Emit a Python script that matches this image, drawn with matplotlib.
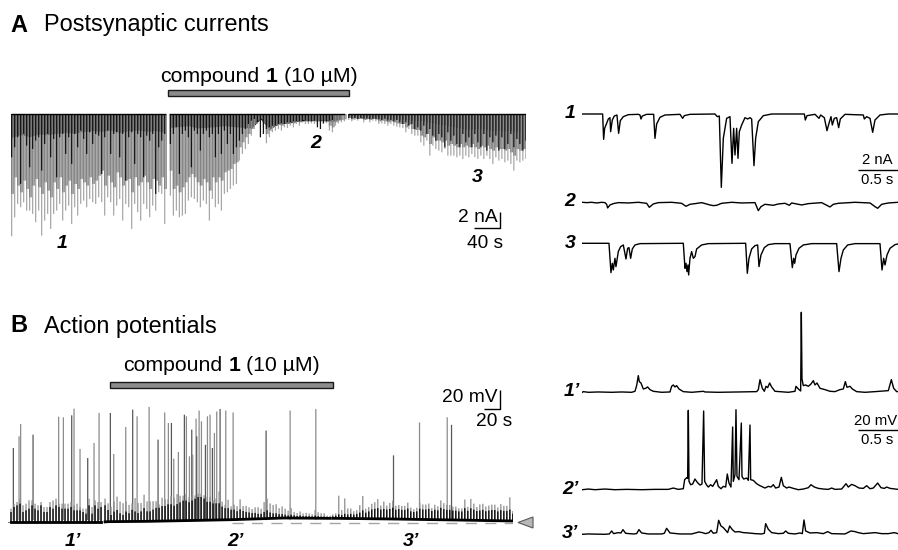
import numpy as np
import matplotlib
matplotlib.use("Agg")
import matplotlib.pyplot as plt
from matplotlib.patches import Polygon, Rectangle

plt.rcParams["font.family"] = ["Liberation Sans", "DejaVu Sans"]

W, H = 898, 550

# -----------------------------------
# Calibration of the recordings
# -----------------------------------
NA_PER_COUNT = 0.0393
MV_PER_COUNT = 0.35
A_DT = 4.615       # s between envelope samples, panel A
A_CORE_DT = 13.85
B_DT = 3.75        # s between envelope samples, panel B

# -----------------------------------
# Panel A, long recording (depth in counts below baseline)
# -----------------------------------
a_starts = [1.0, 245.1, 519.5]
a_tip_1 = [367, 310, 270, 280, 265, 290, 290, 300, 325, 290, 365, 320, 300, 345, 300, 290, 270, 320,
           290, 275, 330, 280, 305, 270, 260, 280, 255, 265, 270, 250, 265, 305, 250, 265, 305, 275,
           255, 320, 270, 280, 345, 270, 295, 320, 270, 285, 310, 275, 290, 235, 240, 330]
a_tip_2 = [245, 305, 290, 310, 305, 300, 260, 250, 255, 265, 280, 260, 270, 320, 255, 280, 270, 290,
           240, 235, 225, 215, 210, 140, 120, 105, 90, 65, 45, 30, 20, 40, 88, 70, 55, 50, 45, 50,
           40, 42, 35, 40, 30, 35, 25, 30, 30, 28, 30, 30, 28, 30, 28, 50, 55, 35, 28, 25, 22]
a_tip_3 = [18, 22, 18, 20, 15, 25, 18, 25, 20, 22, 30, 28, 30, 35, 30, 35, 38, 40, 42, 55, 45, 60,
           65, 65, 85, 95, 80, 125, 95, 105, 110, 115, 105, 125, 125, 125, 130, 125, 135, 125, 130,
           120, 130, 135, 125, 135, 125, 135, 150, 130, 140, 135, 145, 140, 150, 170, 140, 145, 140, 135]
a_mid_1 = [240, 190, 215, 235, 200, 225, 250, 215, 195, 220, 240, 205, 230, 250, 205, 225, 190, 235,
           215, 200, 240, 210, 225, 195, 205, 215, 190, 210, 200, 185, 170, 215, 185, 205, 220, 175,
           190, 215, 200, 195, 235, 190, 215, 205, 185, 205, 225, 195, 200, 215, 190, 225]
a_mid_2 = [170, 225, 215, 235, 220, 205, 190, 180, 190, 205, 215, 195, 205, 230, 190, 205, 190, 200,
           175, 170, 165, 150, 145, 100, 85, 70, 60, 45, 30, 20, 15, 28, 60, 50, 40, 35, 30, 35, 30,
           30, 25, 28, 22, 25, 18, 22, 22, 20, 22, 22, 20, 22, 20, 35, 40, 25, 20, 18, 16]
a_mid_3 = [12, 16, 12, 15, 11, 18, 13, 18, 15, 16, 22, 20, 22, 25, 22, 25, 28, 30, 30, 40, 32, 45, 48,
           48, 65, 70, 60, 90, 70, 80, 80, 85, 80, 95, 90, 95, 100, 90, 100, 95, 100, 90, 100, 105,
           95, 100, 95, 105, 110, 100, 105, 105, 110, 105, 115, 125, 105, 110, 105, 105]
a_core_1 = [70, 62, 68, 60, 62, 58, 55, 58, 52, 50, 52, 48, 55, 50, 48, 52, 50, 55]
a_core_2 = [40, 38, 35, 42, 40, 38, 35, 38, 40, 42, 15, 45, 30, 28, 22, 20, 20, 20, 22, 14]
a_core_3 = [10, 12, 12, 14, 14, 15, 16, 18, 20, 25, 30, 35, 40, 45, 45, 45, 50, 50, 50, 55]
a_dark_1 = [130, 100, 70, 210, 60, 95, 160, 105, 80, 70, 170, 90, 60, 130, 75, 190, 70, 60, 120, 70,
            150, 60, 100, 50, 75, 120, 55, 90, 60, 65, 180, 70, 50, 120, 60, 55, 130, 60, 200, 70,
            55, 150, 60, 70, 190, 65, 80, 60, 240, 100, 80, 60]
a_dark_2 = [90, 60, 40, 180, 60, 50, 70, 160, 50, 60, 110, 60, 50, 70, 60, 130, 60, 120, 50, 90, 60,
            120, 100, 80, 60, 45, 30, 20, 15, 25, 70, 60, 45, 40, 35, 35, 30, 28, 30, 25, 25, 22, 22,
            22, 22, 20, 22, 22, 20, 40, 45, 28, 22, 20, 18]
a_dark_3 = [12, 14, 12, 15, 12, 14, 14, 15, 14, 14, 16, 18, 14, 20, 18, 22, 18, 25, 30, 25, 35, 30,
            45, 40, 50, 35, 60, 45, 65, 80, 60, 70, 100, 55, 80, 65, 90, 100, 60, 85, 70, 100, 60,
            85, 100, 60, 110, 70, 85, 65, 110, 70, 105, 90, 60, 100, 75, 90, 110, 80]

# -----------------------------------
# Panel B, long recording (height in counts above rest)
# -----------------------------------
b_starts = [3.75, 121.25, 405.8]
b_tip_1 = [40, 55, 60, 70, 50, 55, 65, 65, 55, 50, 60, 45, 45, 60, 65, 70, 55, 55, 55, 55, 60, 50,
           55, 45, 40, 40, 70, 45, 65, 60, 60]
b_dark_1 = [30, 45, 50, 55, 30, 35, 40, 50, 40, 35, 50, 30, 30, 45, 40, 50, 45, 40, 40, 40, 45, 35,
            35, 35, 30, 25, 50, 25, 50, 40, 45]
b_tip_2 = [70, 55, 45, 60, 75, 60, 55, 60, 50, 55, 70, 55, 55, 80, 60, 60, 60, 60, 50, 70, 65, 65,
           75, 70, 80, 75, 75, 80, 70, 75, 75, 80, 80, 75, 70, 70, 60, 65, 85, 55, 45, 60, 40, 45,
           40, 60, 40, 40, 35, 30, 35, 35, 30, 50, 60, 45, 40, 42, 30, 35, 28, 22, 30, 18, 15, 20,
           14, 16, 14, 12, 25, 18, 15, 15, 8, 8]
b_dark_2 = [50, 35, 20, 30, 35, 25, 20, 30, 25, 35, 30, 25, 30, 40, 30, 30, 35, 40, 40, 45, 45, 50,
            50, 45, 50, 55, 60, 60, 55, 60, 65, 70, 70, 65, 55, 55, 50, 50, 50, 40, 35, 35, 30, 30,
            25, 30, 25, 22, 20, 18, 18, 15, 15, 20, 25, 18, 15, 15, 12, 12, 10, 8, 10, 8, 6, 8, 6,
            6, 6, 5, 8, 6, 5, 5, 3, 3]
b_tip_3 = [12, 15, 68, 25, 60, 30, 30, 22, 25, 40, 68, 30, 35, 45, 50, 59, 40, 52, 40, 48, 55, 40,
           42, 40, 40, 50, 35, 30, 35, 50, 45, 45, 48, 35, 45, 40, 58, 50, 45, 45, 40, 40, 35, 35,
           62, 40, 64, 50, 40, 48, 50, 42, 45, 48, 48, 40, 50, 45, 45, 71, 30]
b_dark_3 = [6, 8, 12, 10, 14, 12, 14, 12, 14, 18, 25, 18, 22, 28, 30, 32, 28, 30, 28, 30, 34, 28, 30,
            28, 28, 32, 24, 22, 24, 32, 30, 30, 32, 26, 30, 28, 36, 32, 30, 30, 28, 28, 26, 26, 36,
            28, 36, 32, 28, 30, 32, 28, 30, 32, 32, 28, 32, 30, 30, 34, 22]
b_floor_t = [0, 120, 125, 175, 240, 280, 345, 400, 410, 480, 560, 631]
b_floor = [0, 0, 1, 2, 5, 7, 12, 11, 11, 9, 6, 3]

# action potentials: time (s) and height (mV)
ap_time = [6.7, 13.8, 15.8, 31.3, 63.3, 69.2, 79.6, 82.5, 90, 99.6, 107.5, 113.8, 127.9, 132.1, 147.1,
           155.8, 161.3, 176.3, 187.5, 195.8, 200.4, 204.2, 207.1, 212.9, 220.4, 222.9, 226.7, 229.6,
           230.8, 235, 235.8, 238.8, 241.7, 246.7, 249.2, 252.5, 255.4, 257.9, 260.8, 265, 272.1,
           281.3, 322.5, 352.5, 384.6, 481.7, 514.2, 548.8, 554.2]
ap_mv = [77.7, 90, 102.9, 91.7, 110.6, 109.9, 112, 119, 76.7, 67.2, 83, 114.5, 114.5, 71.4, 99.8,
         118, 111, 120.8, 86.5, 115, 104, 104, 66.5, 73.5, 112.7, 111, 69, 97,
         70.7, 108.5, 90, 117, 105.7, 81, 111, 112.7, 77.7, 93.5, 116, 118.7, 117,
         115, 96, 117, 118.6, 70, 104.6, 110, 102]

# -----------------------------------
# Expanded sweeps: (sample, counts from baseline)
# -----------------------------------
psc_1 = [(82, 0), (143, 0), (146, 76), (149, 43), (155, 28), (160, 15), (165, 11), (167, 53), (172, 18),
         (178, 6), (186, 3), (191, 58), (196, 20), (205, 8), (220, 2), (250, 1), (255, 3), (258, 15),
         (262, 6), (275, 1), (296, 1), (300, 73), (305, 30), (315, 10), (330, 3), (375, 1), (383, 13),
         (388, 5), (405, 1), (480, 0), (487, 8), (493, 6), (499, 220), (505, 73), (515, 13), (525, 8),
         (531, 148), (536, 43), (540, 123), (545, 43), (549, 133), (553, 53), (560, 33), (570, 11),
         (578, 15), (585, 11), (590, 15), (597, 155), (602, 73), (610, 23), (625, 5), (650, 0),
         (748, 0), (751, 18), (756, 5), (780, 1), (792, 13), (797, 3), (808, 11), (816, 50), (822, 28),
         (828, 8), (832, 33), (838, 13), (845, 11), (851, 41), (856, 15), (870, 1), (925, 3), (928, 15),
         (935, 8), (945, 13), (953, 55), (960, 18), (975, 3), (1000, 0), (1029, 0)]
psc_2 = [(82, 0), (95, 1), (110, 0), (125, 2), (140, 0), (150, 1), (155, 6), (158, 17), (165, 8), (175, 4),
         (190, 1), (220, 2), (250, 0), (275, 3), (283, 15), (295, 5), (310, 1), (350, 0), (380, 3),
         (393, 12), (405, 6), (420, 4), (440, 1), (465, 8), (475, 10), (485, 9), (500, 3), (530, 0), (560, 2),
         (600, 1), (610, 25), (618, 13), (630, 6), (655, 9), (670, 5), (690, 3), (703, 9), (710, 2),
         (740, 8), (760, 4), (800, 1), (825, 14), (835, 6), (850, 3), (900, 0), (945, 2), (960, 13), (968, 18),
         (980, 6), (1000, 2), (1029, 0)]
psc_3 = [(82, 0), (162, 0), (168, 88), (172, 60), (175, 80), (180, 45), (183, 70), (190, 25), (197, 10),
         (205, 5), (213, 47), (218, 15), (222, 13), (227, 45), (232, 17), (240, 5), (255, 1), (385, 0),
         (390, 75), (393, 60), (396, 85), (399, 65), (401, 95), (405, 45), (410, 25), (415, 45), (420, 40),
         (425, 17), (440, 5), (460, 1), (572, 0), (577, 90), (582, 45), (590, 17), (600, 7), (608, 5),
         (612, 70), (618, 35), (628, 13), (640, 4), (660, 1), (705, 1), (712, 73), (716, 45), (719, 60),
         (723, 35), (732, 15), (745, 5), (770, 1), (845, 1), (852, 85), (858, 45), (865, 20), (878, 5),
         (900, 1), (975, 1), (981, 80), (986, 45), (990, 65), (996, 35), (1005, 15), (1020, 4), (1029, 2)]

vm_1 = [(82, 0), (85, 2), (100, 0), (130, 1), (170, 0), (200, 1), (230, 0), (240, 3), (245, 20), (250, 50),
        (253, 32), (258, 28), (265, 10), (272, 12), (278, 16), (285, 8), (295, 3), (320, 0), (345, 1),
        (350, 18), (355, 22), (360, 16), (365, 20), (372, 10), (385, 2), (410, 0), (445, 3), (450, 1),
        (490, 0), (550, 1), (605, 2), (610, 8), (615, 38), (622, 12), (628, 3), (633, 18), (638, 14),
        (644, 28), (650, 16), (660, 3), (700, 0), (720, 3), (723, 18), (730, 10), (737, 4), (739, 240),
        (741, 40), (745, 20), (752, 22), (760, 18), (768, 25), (775, 35), (780, 22), (786, 28), (795, 12),
        (810, 8), (825, 3), (840, 2), (855, 8), (865, 10), (871, 32), (876, 15), (885, 18), (892, 10),
        (905, 2), (930, 0), (960, 2), (1000, 5), (1009, 38), (1016, 12), (1025, 2), (1029, 2)]
vm_2 = [(82, 0), (100, 2), (120, 0), (150, 2), (180, 0), (215, 1), (260, 0), (300, 1), (340, 1), (355, 5),
        (370, 1), (385, 3), (389, 30), (395, 36), (398, 34), (400, 238), (402, 25), (407, 15), (413, 17),
        (420, 32), (427, 22), (435, 14), (441, 17), (446, 236), (449, 25), (455, 14), (460, 8), (467, 15),
        (473, 10), (478, 18), (485, 30), (490, 10), (498, 3), (505, 10), (512, 8), (517, 47), (522, 20),
        (528, 8), (533, 188), (535, 25), (540, 45), (543, 240), (546, 40), (552, 30), (559, 200), (561, 40),
        (566, 32), (575, 35), (580, 28), (585, 194), (587, 30), (595, 28), (605, 18), (615, 12), (630, 5),
        (640, 10), (648, 8), (655, 15), (662, 5), (672, 8), (679, 37), (685, 12), (695, 5), (702, 8), (715, 4),
        (730, 0), (745, 2), (760, 6), (768, 15), (778, 8), (790, 4), (805, 2), (820, 1), (830, 5), (840, 1),
        (860, 2), (873, 18), (880, 8), (890, 16), (900, 12), (912, 5), (925, 4), (935, 12), (945, 3), (955, 5),
        (968, 20), (978, 6), (988, 4), (995, 8), (1005, 4), (1029, 1)]
vm_3 = [(82, 0), (100, 1), (150, 0), (163, 1), (170, 10), (176, 2), (190, 5), (198, 4), (204, 14), (212, 3),
        (235, 1), (245, 2), (252, 14), (260, 4), (280, 1), (320, 1), (328, 3), (335, 18), (345, 4), (375, 1),
        (410, 1), (432, 7), (442, 5), (452, 2), (462, 5), (468, 12), (475, 3), (485, 5), (491, 42), (498, 25),
        (505, 20), (512, 12), (518, 5), (524, 25), (532, 14), (540, 7), (552, 8), (565, 5), (580, 4), (600, 2),
        (620, 1), (628, 3), (632, 32), (640, 15), (650, 5), (670, 2), (685, 3), (692, 10), (700, 3), (720, 1),
        (735, 4), (742, 2), (747, 43), (752, 10), (765, 4), (785, 5), (805, 2), (818, 8), (830, 2), (870, 1),
        (888, 10), (900, 8), (910, 5), (925, 2), (960, 5), (980, 2), (1000, 2), (1018, 5), (1029, 2)]


# -----------------------------------
# Helpers
# -----------------------------------
def px_axes(fig, left, top, right, bottom):
    ax = fig.add_axes([left / W, 1 - bottom / H, (right - left) / W, (bottom - top) / H])
    ax.axis("off")
    ax.patch.set_alpha(0)
    return ax


def draw_psc_segment(ax, start, tip, mid, core, dark):
    t = start + A_DT * np.arange(len(tip))
    t_mid = start + A_DT * (np.arange(len(mid)) + 0.5)
    t_core = start + A_CORE_DT * np.arange(len(core))
    t_dark = start + A_DT * np.arange(len(dark))
    # snap off: the comb of lines would otherwise alias against the pixel grid
    ax.vlines(t, 0, -np.array(tip) * NA_PER_COUNT, color="0.66", lw=0.9, snap=False)
    ax.vlines(t, 0, -np.array(mid) * NA_PER_COUNT, color="0.52", lw=0.9, snap=False)
    ax.vlines(t_mid, 0, -np.array(mid) * NA_PER_COUNT, color="0.55", lw=1.0, snap=False)
    ax.vlines(t_dark, 0, -np.array(dark) * NA_PER_COUNT, color="0.08", lw=0.9, snap=False)
    ax.fill_between(t_core, 0, -np.array(core) * NA_PER_COUNT, color="0.03", lw=0)
    ax.plot([t[0], t[-1]], [0, 0], color="black", lw=1.0)


def draw_ap_segment(ax, start, tip, dark):
    t = start + B_DT * np.arange(len(tip))
    t_dark = start + B_DT * np.arange(len(dark))
    floor = np.interp(t, b_floor_t, b_floor) * MV_PER_COUNT
    floor_dark = np.interp(t_dark, b_floor_t, b_floor) * MV_PER_COUNT
    ax.vlines(t, floor, floor + np.array(tip) * MV_PER_COUNT, color="0.55", lw=0.9, snap=False)
    ax.vlines(t_dark, floor_dark - 0.8, floor_dark + np.array(dark) * MV_PER_COUNT, color="black", lw=0.95, snap=False)
    ax.plot(t, floor, color="black", lw=2.0)


def draw_sweep(fig, base_y, pairs, sign):
    # one count is a third of a pixel, both ways
    ax = px_axes(fig, 582.3, base_y - 100, 898, base_y + 100)
    ax.set_xlim(82, 1029)
    ax.set_ylim(-300, 300)
    s, v = np.array(pairs).T
    ax.plot(s, sign * v, color="black", lw=1.0, solid_joinstyle="round")


# -----------------------------------
# Figure
# -----------------------------------
fig = plt.figure(figsize=(W / 100, H / 100), dpi=100, facecolor="white")

ax_a = px_axes(fig, 11, 100, 526, 250)
ax_a.set_xlim(0, 792)
ax_a.set_ylim(-136 * 0.118, 14 * 0.118)
draw_psc_segment(ax_a, a_starts[0], a_tip_1, a_mid_1, a_core_1, a_dark_1)
draw_psc_segment(ax_a, a_starts[1], a_tip_2, a_mid_2, a_core_2, a_dark_2)
draw_psc_segment(ax_a, a_starts[2], a_tip_3, a_mid_3, a_core_3, a_dark_3)

ax_b = px_axes(fig, 8, 400, 513, 530)
ax_b.set_xlim(0, 631)
ax_b.set_ylim(-8 * 1.05, 122 * 1.05)
ax_b.hlines(-0.6, 280, 631, color="0.65", lw=1.0, linestyles=(0, (8, 6)))
ax_b.plot([-1, 3.75], [0, 0], color="0.5", lw=0.8)
ap_color = ["0.35" if i % 3 == 0 else "0.55" for i in range(len(ap_time))]
ax_b.vlines(ap_time, 2, ap_mv, colors=ap_color, lw=0.9, snap=False)
draw_ap_segment(ax_b, b_starts[0], b_tip_1, b_dark_1)
draw_ap_segment(ax_b, b_starts[1], b_tip_2, b_dark_2)
draw_ap_segment(ax_b, b_starts[2], b_tip_3, b_dark_3)

draw_sweep(fig, 114, psc_1, -1)
draw_sweep(fig, 202.3, psc_2, -1)
draw_sweep(fig, 243.3, psc_3, -1)
draw_sweep(fig, 392.3, vm_1, 1)
draw_sweep(fig, 489.7, vm_2, 1)
draw_sweep(fig, 534.3, vm_3, 1)

# annotation layer in pixels
ov = px_axes(fig, 0, 0, W, H)
ov.set_xlim(0, W)
ov.set_ylim(H, 0)

for x0, x1, y0, y1 in [(167.5, 348.5, 89.5, 95.5), (110, 333, 381.5, 387.5)]:
    ov.add_patch(Rectangle((x0, y0), x1 - x0, y1 - y0, fc="0.55", ec="0.1", lw=1.0))

ov.add_patch(Polygon([[518, 522.5], [533, 517], [533, 528]], closed=True, fc="0.72", ec="0.35", lw=0.8))

# scale bars
for xs, ys in [([474, 500, 500], [228, 228, 212]), ([484, 500, 500], [409, 409, 390]),
               ([858, 898], [170, 170]), ([858, 898], [430, 430])]:
    ov.plot(xs, ys, color="black", lw=1.0, solid_capstyle="butt")

TITLE = 16.9
LABEL = 14.0
ov.text(10, 25, "A", fontsize=TITLE, fontweight="bold", va="center")
ov.text(44, 25, "Postsynaptic currents", fontsize=TITLE, va="center")
ov.text(10, 326, "B", fontsize=TITLE, fontweight="bold", va="center")
ov.text(44, 326, "Action potentials", fontsize=TITLE, va="center")

for x_start, x_one, x_rest, y in [(160, 265.5, 284, 76), (123, 228.5, 246, 365.5)]:
    ov.text(x_start, y, "compound", fontsize=15.3, va="center")
    ov.text(x_one, y, "1", fontsize=15.3, fontweight="bold", va="center")
    ov.text(x_rest, y, "(10 \u00b5M)", fontsize=15.3, va="center")

bold_labels = [("1", 62, 244), ("2", 316, 144), ("3", 477, 178), ("1\u2019", 73, 541), ("2\u2019", 235, 541),
               ("3\u2019", 411, 541), ("1", 570, 113), ("2", 570, 201), ("3", 570, 243), ("1\u2019", 572, 391),
               ("2\u2019", 570, 489), ("3\u2019", 570, 533)]
for txt, x, y in bold_labels:
    ov.text(x, y, txt, fontsize=LABEL, fontweight="bold", fontstyle="italic", ha="center", va="center")

ov.text(478, 218, "2 nA", fontsize=13.8, ha="center", va="center")
ov.text(485, 243, "40 s", fontsize=13.8, ha="center", va="center")
ov.text(470, 398, "20 mV", fontsize=13.8, ha="center", va="center")
ov.text(494, 421, "20 s", fontsize=13.8, ha="center", va="center")
ov.text(877, 160, "2 nA", fontsize=10.7, ha="center", va="center")
ov.text(877, 180, "0.5 s", fontsize=10.7, ha="center", va="center")
ov.text(875.5, 421, "20 mV", fontsize=10.7, ha="center", va="center")
ov.text(877, 440, "0.5 s", fontsize=10.7, ha="center", va="center")

fig.savefig("out.png", dpi=100)
